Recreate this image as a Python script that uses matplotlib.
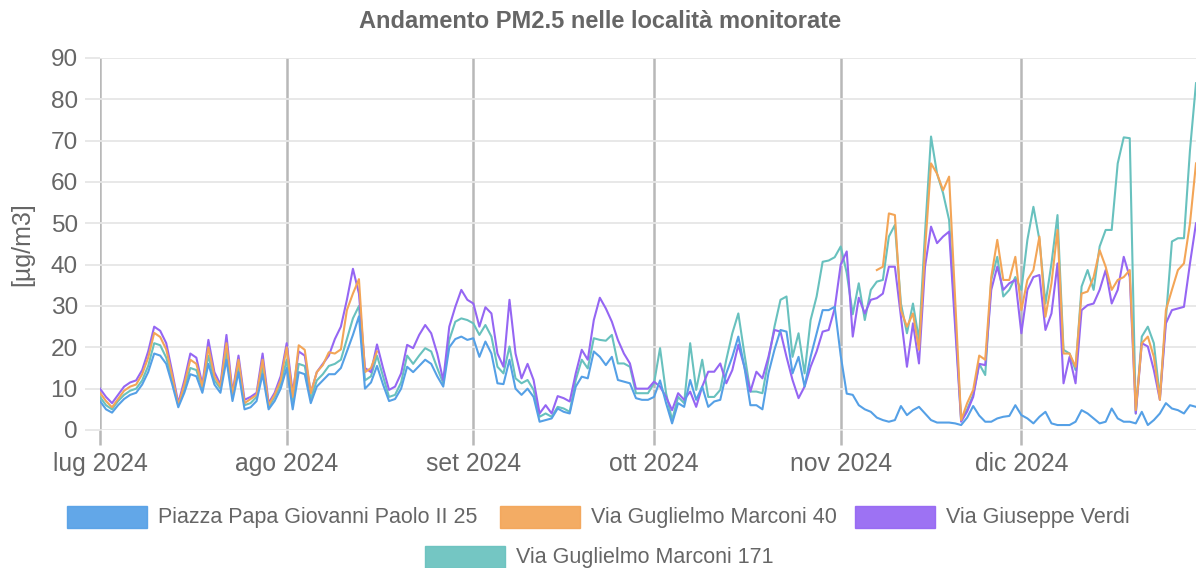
import matplotlib
matplotlib.use("Agg")
import matplotlib.pyplot as plt
from matplotlib.patches import Rectangle
import numpy as np
import pandas as pd

nan = np.nan

TITLE = "Andamento PM2.5 nelle località monitorate"
Y_LABEL = "[µg/m3]"
START, END = "2024-07-01", "2024-12-30"
MONTH_STARTS = ["2024-07-01", "2024-08-01", "2024-09-01",
                "2024-10-01", "2024-11-01", "2024-12-01"]
MONTH_LABELS = ["lug 2024", "ago 2024", "set 2024",
                "ott 2024", "nov 2024", "dic 2024"]
Y_TICKS = list(range(0, 100, 10))

STATIONS = ["Piazza Papa Giovanni Paolo II 25", "Via Guglielmo Marconi 40",
            "Via Giuseppe Verdi", "Via Guglielmo Marconi 171"]
COLORS = ["#55A0E6", "#F3A557", "#9566F3", "#68C1BE"]

# daily PM2.5, one row per month (jul .. dec 30)
piazza_papa = [
    7, 5, 4.2, 6, 7.5, 8.5, 9, 11, 14, 18.5, 18, 16, 11, 5.5, 9, 13.5, 13, 9, 16, 11,
    9, 17, 7, 14, 5, 5.5, 7, 13.5, 5, 7, 10,
    15, 5, 14, 13.5, 6.5, 10.5, 12, 13.5, 13.5, 15, 19, 23, 27.5, 10, 11.5, 15.5, 11, 7, 7.5, 10,
    15.3, 14, 15.5, 17, 16, 13, 10.5, 20, 22, 22.6, 21.8,
    22.2, 17.7, 21.4, 18.5, 11.3, 11.1, 17, 10, 8.5, 10, 8, 2, 2.4, 2.8, 5.2, 4.4, 4, 10.5, 12.9, 12.5,
    19, 17.7, 15.7, 17.7, 12.1, 11.7, 11.3, 7.7, 7.3, 7.3,
    8, 12, 6.5, 1.6, 6.5, 5.6, 12.1, 7.3, 10.5, 5.6, 6.9, 7.3, 13.7, 17.7, 22.6, 15.3, 6, 6, 5, 13.7,
    19.4, 24.2, 23.8, 13.7, 17.7, 10.5, 17.7, 23.4, 29, 29, 29.8,
    18, 8.8, 8.5, 6, 5, 4.4, 3, 2.4, 2, 2.4, 5.8, 3.6, 4.8, 5.6, 4, 2.4, 1.8, 1.8, 1.8, 1.6,
    1.2, 3, 5.8, 3.5, 2, 2, 2.8, 3.2, 3.4, 6,
    3.6, 2.8, 1.6, 3.2, 4.4, 1.6, 1.2, 1.2, 1.2, 2, 4.8, 4, 2.8, 1.6, 2, 5.2, 2.8, 2, 2, 1.6,
    4.4, 1.2, 2.4, 4, 6.5, 5.2, 4.8, 4, 6, 5.6,
]
marconi_40 = [
    9, 7, 5.5, 7.5, 9.5, 10.5, 11, 13.5, 17.5, 23.5, 22.5, 19.5, 13, 6, 11, 17, 16, 10.5, 20, 13,
    10.5, 21, 8.5, 17, 6.5, 7.5, 8.5, 17, 6, 8.5, 12,
    20, 8, 20.5, 19.4, 8.9, 14, 15.7, 18.8, 18.5, 19.5, 29, 33, 36.5, 14, 15, 19, nan, nan, nan, nan,
    nan, nan, nan, nan, nan, nan, nan, nan, nan, nan, nan,
    nan, nan, nan, nan, nan, nan, nan, nan, nan, nan, nan, nan, nan, nan, nan, nan, nan, nan, nan, nan,
    nan, nan, nan, nan, nan, nan, nan, nan, nan, nan,
    nan, nan, nan, nan, nan, nan, nan, nan, nan, nan, nan, nan, nan, nan, nan, nan, nan, nan, nan, nan,
    nan, nan, nan, nan, nan, nan, nan, nan, nan, nan, nan,
    nan, nan, nan, nan, nan, nan, 38.7, 39.5, 52.4, 52, 29, 25, 28.2, 19.4, 43.5, 64.5, 62, 58, 61.3, 32,
    2.4, 6.5, 9.7, 18, 17, 37, 46, 36.3, 36.3, 41.9,
    29, 36.3, 38.7, 46.8, 27.4, 35.5, 48.4, 18.5, 18.5, 15.3, 33, 33.5, 37, 43.5, 39.5, 33.9, 36.3, 37, 38.7, 4.8,
    21, 22.6, 17.7, 7.3, 29, 33.9, 38.7, 40.3, 50, 64.5,
]
verdi = [
    10, 8, 6.5, 8.5, 10.5, 11.5, 12, 14.5, 19, 25, 24, 21, 14, 6.5, 12, 18.5, 17.5, 11, 21.8, 14,
    11, 23, 9, 18, 7.3, 8, 9, 18.5, 6.5, 9, 13,
    21, 9, 19, 18, 9, 14, 16, 18, 22, 25, 31.5, 39, 33, 15, 14, 20.7, 15, 9.7, 10.5, 13.7,
    20.6, 19.8, 23, 25.4, 23.4, 18.5, 12, 25, 29.8, 33.9, 31.5,
    30.6, 25, 29.7, 28.2, 18.5, 15.3, 31.5, 18.5, 12.5, 16, 12.1, 4, 6, 4, 8.2, 7.7, 6.9, 13.7, 19.4, 17,
    26.6, 32, 29.4, 26.2, 21.8, 18.5, 16.1, 10, 10, 10,
    11.7, 10.5, 8, 4.8, 8.9, 7.3, 9.3, 5.6, 10.5, 14.1, 14.1, 16.1, 11.3, 14.5, 20.6, 15.3, 9.3, 14.1, 12.5, 17.7,
    24.2, 23.8, 17.7, 12.1, 7.7, 10.5, 15.3, 19, 23.8, 24.2, 29.4,
    40, 43.2, 22.6, 32, 28.2, 31.5, 31.9, 33, 39.5, 39.5, 27.4, 15.3, 25.8, 16.1, 39.5, 49.2, 45.2, 46.8, 48, 25,
    2, 4.5, 8, 16, 15.7, 33.9, 39.5, 33.9, 35.5, 36.3,
    23.4, 33.9, 37, 37.5, 24.2, 28.2, 40.3, 11.3, 17.7, 11.3, 29, 30.2, 30.6, 33.9, 38.7, 30.6, 33.9, 41.9, 37, 4,
    21, 20.2, 14.5, 7.3, 25.8, 29, 29.4, 29.8, 40.3, 50,
]
marconi_171 = [
    8, 6, 5, 7, 8.5, 9.5, 10, 12, 15.5, 21, 20.5, 17.5, 12, 6, 10, 15, 14.5, 10, 18, 12,
    10, 19, 8, 15.5, 6, 6.5, 8, 15, 5.5, 8, 11,
    17, 7, 16, 15.5, 7.5, 12, 13.5, 15.5, 16, 17, 22, 27, 30, 12, 13, 18, 13, 8, 8.5, 11.5,
    18, 16, 18, 19.8, 19, 15, 11.3, 21.8, 26.2, 27, 26.6,
    25.8, 23, 25.4, 22.6, 15.3, 13.7, 20.2, 12.5, 11.3, 12.1, 9.7, 3.2, 4, 3.2, 5.6, 5.2, 4.4, 12.1, 17, 14.9,
    22.2, 21.8, 21.6, 23, 16.1, 16.1, 15.3, 8.9, 8.9, 8.9,
    11.3, 19.8, 8.9, 2.4, 8, 6.5, 21, 9.7, 17, 8, 8, 9.7, 17, 23.4, 28.2, 18.5, 9.3, 9.3, 8.9, 17,
    25, 31.5, 32.3, 17.7, 23.4, 13.7, 26.6, 32.3, 40.7, 41, 41.8,
    44.4, 38, 28, 35.5, 26.6, 33.9, 35.9, 36.3, 46.8, 49.6, 30.6, 23.4, 30.6, 21.8, 47.6, 71, 62, 57.3, 50.8, 27,
    2.4, 5, 8.5, 16, 13.3, 36.3, 41.9, 32.3, 33.9, 37,
    33.9, 46, 54, 46, 30.6, 40.3, 52, 19.4, 18.5, 14.5, 34.7, 38.7, 33.9, 44.4, 48.4, 48.4, 64.5, 70.8, 70.6, 4,
    22.6, 25, 21, 8, 27, 45.6, 46.4, 46.4, 67.7, 83.9,
]

TEXT_COLOR = "#666666"
plt.rcParams["font.family"] = ["Liberation Sans", "DejaVu Sans"]

W, H = 1196, 568
dates = pd.date_range(START, END, freq="D")
series = [piazza_papa, marconi_40, verdi, marconi_171]

fig = plt.figure(figsize=(W / 100, H / 100), dpi=100)
ax = fig.add_axes([100 / W, 138 / H, 1096 / W, 372 / H])

# first station drawn on top, like the original
for i in range(len(series) - 1, -1, -1):
    ax.plot(dates, series[i], color=COLORS[i], lw=1.5, zorder=3 + (len(series) - i))

ax.set_xlim(dates[0], dates[-1])
ax.set_ylim(0, 90)
ax.set_yticks(Y_TICKS)
ax.set_xticks(pd.to_datetime(MONTH_STARTS))
ax.set_xticklabels(MONTH_LABELS)

ax.grid(axis="y", color="#e6e6e6", lw=1.3, zorder=0)
ax.grid(axis="x", color="#b8b8b8", lw=1.8, zorder=1)
for s in ax.spines.values():
    s.set_visible(False)

ax.tick_params(axis="y", length=11, width=1.3, color="#e6e6e6",
               labelsize=17.6, labelcolor=TEXT_COLOR, pad=5)
ax.tick_params(axis="x", length=11, width=1.8, color="#b8b8b8",
               labelsize=17.8, labelcolor=TEXT_COLOR, pad=5)

ax.set_ylabel(Y_LABEL, fontsize=18, color=TEXT_COLOR, labelpad=12)
fig.text(600 / W, 1 - 22 / H, TITLE, ha="center", va="center",
         fontsize=17, fontweight="bold", color=TEXT_COLOR)

# legend drawn by hand: 3 items on the first row, 1 centred below
legend_pos = [(67, 517), (500, 517), (855, 517), (425, 557)]
for (lx, ly), name, col in zip(legend_pos, STATIONS, COLORS):
    fig.add_artist(Rectangle((lx / W, 1 - (ly + 11) / H), 80 / W, 22 / H,
                             transform=fig.transFigure, facecolor=col,
                             edgecolor=col, lw=1, alpha=0.92))
    fig.text((lx + 91) / W, 1 - ly / H, name, ha="left", va="center",
             fontsize=15.5, color=TEXT_COLOR)

fig.savefig("out.png", dpi=100)
